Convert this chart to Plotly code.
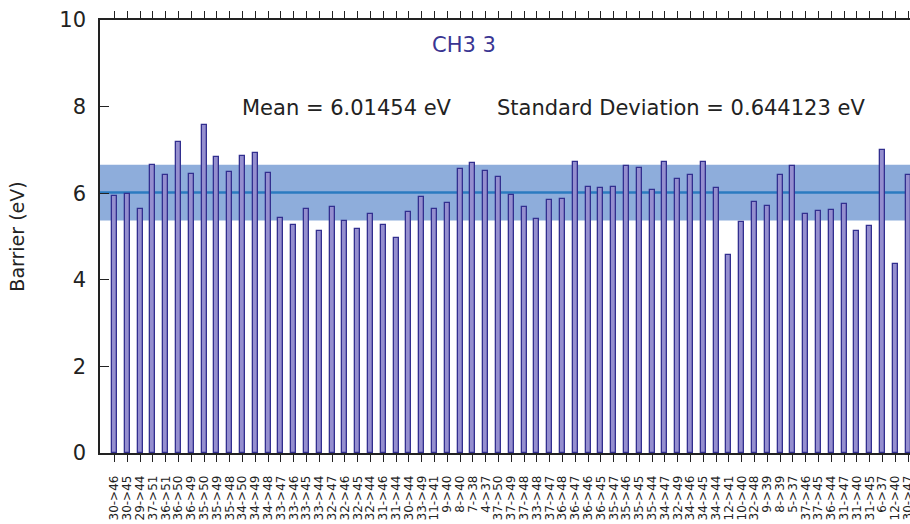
import plotly.graph_objects as go

labels = ["30->46", "30->45", "29->44", "37->51", "36->51", "36->50", "36->49", "35->50",
          "35->49", "35->48", "34->50", "34->49", "34->48", "33->47", "33->46", "33->45",
          "33->44", "32->47", "32->46", "32->45", "32->44", "31->46", "31->44", "30->44",
          "33->49", "11->41", "9->40", "8->40", "7->38", "4->37", "37->50", "37->49",
          "37->48", "33->48", "37->47", "36->48", "36->47", "36->46", "36->45", "35->47",
          "35->46", "35->45", "35->44", "34->47", "32->49", "34->46", "34->45", "34->44",
          "12->41", "10->40", "32->48", "9->39", "8->39", "5->37", "37->46", "37->45",
          "36->44", "31->47", "31->40", "31->45", "6->37", "12->40", "30->47"]

barrier = [5.93, 5.98, 5.63, 6.65, 6.42, 7.18, 6.45, 7.58, 6.84, 6.48, 6.87, 6.92, 6.46, 5.43, 5.27,
           5.64, 5.13, 5.67, 5.36, 5.17, 5.51, 5.26, 4.96, 5.56, 5.91, 5.64, 5.77, 6.56, 6.70, 6.51, 6.37,
           5.95, 5.68, 5.40, 5.84, 5.87, 6.71, 6.14, 6.12, 6.14, 6.62, 6.58, 6.07, 6.72, 6.32, 6.41,
           6.72, 6.11, 4.58, 5.33, 5.80, 5.70, 6.41, 6.63, 5.53, 5.59, 5.62, 5.75, 5.13, 5.24, 6.99, 4.36, 6.41]

mean_val = 6.01454
std_val = 0.644123
title_text = "CH3 3"
y_ticks = [0, 2, 4, 6, 8, 10]

idx = list(range(len(labels)))

fig = go.Figure()
fig.add_trace(go.Bar(
    x=idx, y=barrier, width=0.39,
    marker=dict(color="#958fcf", line=dict(color="#322f8f", width=1.3)),
    showlegend=False,
))

# mean +- std band and mean line
fig.add_shape(type="rect", xref="paper", yref="y", x0=0, x1=1,
              y0=mean_val - std_val, y1=mean_val + std_val,
              fillcolor="#8eaddb", line=dict(width=0), layer="below")
fig.add_shape(type="line", xref="paper", yref="y", x0=0, x1=1,
              y0=mean_val, y1=mean_val,
              line=dict(color="#2b7bc0", width=2.5), layer="below")

font_family = "DejaVu Sans"
fig.add_annotation(xref="paper", yref="y", x=(464 - 100) / 810, y=9.42, text=title_text,
                   showarrow=False, font=dict(family=font_family, size=21, color="#3a3592"))
fig.add_annotation(xref="paper", yref="y", x=(240 - 100) / 810, y=7.97, xanchor="left",
                   text=f"Mean = {mean_val} eV", showarrow=False,
                   font=dict(family=font_family, size=21, color="#222222"))
fig.add_annotation(xref="paper", yref="y", x=(495 - 100) / 810, y=7.97, xanchor="left",
                   text=f"Standard Deviation = {std_val} eV", showarrow=False,
                   font=dict(family=font_family, size=21, color="#222222"))

fig.update_layout(
    width=910, height=524, autosize=False,
    margin=dict(l=100, r=0, t=20, b=71),
    plot_bgcolor="white", paper_bgcolor="white",
    font=dict(family=font_family, color="#222222"),
    bargap=0,
)
fig.update_xaxes(
    range=[-1.133, 62.148], tickmode="array", tickvals=idx, ticktext=labels,
    tickangle=-90, tickfont=dict(size=12, color="#222222"),
    ticks="outside", ticklen=7, tickwidth=1, tickcolor="#222222",
    showline=True, linecolor="#222222", linewidth=1.5, mirror="ticks",
    showgrid=False, zeroline=False, ticklabelstandoff=9, automargin=False,
    ticklabeloverflow="allow",
)
fig.update_yaxes(
    range=[0, 10], tickmode="array", tickvals=y_ticks,
    tickfont=dict(size=21, color="#222222"),
    ticks="inside", ticklen=9, tickwidth=1, tickcolor="#222222",
    showline=True, linecolor="#222222", linewidth=1.5,
    showgrid=False, zeroline=False, ticklabelstandoff=8, automargin=False,
    title=dict(text="Barrier (eV)", font=dict(size=19, color="#222222"), standoff=30),
)

fig.write_html(
    "out.html",
    config={"displayModeBar": False},
    post_script=(
        "document.documentElement.style.overflow='hidden';"
        "document.body.style.margin='0';"
        "document.body.style.overflow='hidden';"
    ),
)
